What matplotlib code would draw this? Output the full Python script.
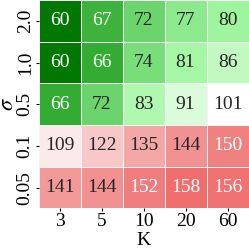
import numpy as np
import pandas as pd
import matplotlib
matplotlib.use('Agg')
import matplotlib.pyplot as plt
import seaborn as sns
from matplotlib.colors import LinearSegmentedColormap, TwoSlopeNorm

sigmas = ['2.0', '1.0', '0.5', '0.1', '0.05']
ks = ['3', '5', '10', '20', '60']
row_2_0 = [60, 67, 72, 77, 80]
row_1_0 = [60, 66, 74, 81, 86]
row_0_5 = [66, 72, 83, 91, 101]
row_0_1 = [109, 122, 135, 144, 150]
row_0_05 = [141, 144, 152, 158, 156]

df = pd.DataFrame([row_2_0, row_1_0, row_0_5, row_0_1, row_0_05], index=sigmas, columns=ks)

plt.rcParams['font.family'] = ['Liberation Serif', 'DejaVu Serif']
plt.rcParams['mathtext.fontset'] = 'stix'

# green -> white -> red, white at 101
cmap = LinearSegmentedColormap.from_list('gwr', [
    (0.0, (0/255, 120/255, 0/255)),
    (0.15, (55/255, 175/255, 55/255)),
    (0.30, (112/255, 215/255, 112/255)),
    (0.50, (162/255, 246/255, 162/255)),
    (0.75, (218/255, 252/255, 218/255)),
    (1.0, (1, 1, 1)),
])
cmap_r = LinearSegmentedColormap.from_list('wr', [
    (0.0, (1, 1, 1)),
    (0.14, (252/255, 232/255, 232/255)),
    (0.37, (248/255, 200/255, 200/255)),
    (0.86, (240/255, 130/255, 130/255)),
    (1.0, (240/255, 110/255, 110/255)),
])
colors = np.vstack([cmap(np.linspace(0, 1, 128)), cmap_r(np.linspace(0, 1, 128))])
full = LinearSegmentedColormap.from_list('full', colors)
norm = TwoSlopeNorm(vmin=60, vcenter=101, vmax=158)

fig, ax = plt.subplots(figsize=(2.49, 2.49), dpi=100)
sns.heatmap(df, ax=ax, cmap=full, norm=norm, annot=True, fmt='d', cbar=False,
            linewidths=0.7, linecolor='#f4f4f4', annot_kws={'fontsize': 14})
ax.set_xlabel('K', fontsize=14, labelpad=1)
ax.set_ylabel(r'$\sigma$', fontsize=16, labelpad=-1)
ax.tick_params(axis='both', labelsize=14, length=2.5, pad=1)
ax.set_yticklabels(sigmas, rotation=90, va='center')
ax.set_xticklabels(ks, rotation=0)

plt.subplots_adjust(left=0.155, right=0.998, top=1.0, bottom=0.163)
plt.savefig('out.png', dpi=100)
